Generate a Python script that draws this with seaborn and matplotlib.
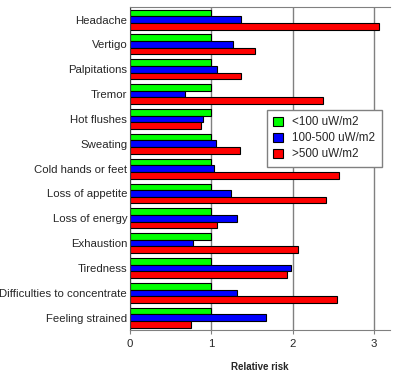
import pandas as pd
import matplotlib
matplotlib.use('Agg')
import matplotlib.pyplot as plt
import seaborn as sns

# Sintomas (de cima para baixo)
sintomas = ['Headache', 'Vertigo', 'Palpitations', 'Tremor', 'Hot flushes',
            'Sweating', 'Cold hands or feet', 'Loss of appetite', 'Loss of energy',
            'Exhaustion', 'Tiredness', 'Difficulties to concentrate', 'Feeling strained']

grupos = ['<100 uW/m2', '100-500 uW/m2', '>500 uW/m2']

# Risco relativo por grupo de exposição
baixo = [1.0] * 13
medio = [1.36, 1.27, 1.07, 0.68, 0.90, 1.06, 1.03, 1.24, 1.32, 0.77, 1.98, 1.32, 1.67]
alto = [3.06, 1.54, 1.37, 2.37, 0.87, 1.35, 2.57, 2.41, 1.07, 2.07, 1.93, 2.55, 0.75]

cores = ['#00ff00', '#0000ff', '#ff0000']

# Montando dataframe no formato longo
linhas = []
for grupo, valores in zip(grupos, [baixo, medio, alto]):
    for s, v in zip(sintomas, valores):
        linhas.append({'sintoma': s, 'grupo': grupo, 'risco': v})
df = pd.DataFrame(linhas)

sns.set_style('white')
plt.rcParams['font.family'] = ['Liberation Sans', 'DejaVu Sans']

fig = plt.figure(figsize=(4, 3.76), dpi=100)
ax = fig.add_axes([0.325, 0.122, 0.65, 0.859])

ax.grid(axis='x', color='#808080', linewidth=1)
ax.set_axisbelow(True)

sns.barplot(data=df, x='risco', y='sintoma', hue='grupo', order=sintomas,
            hue_order=grupos, palette=cores, saturation=1, orient='h', width=0.8,
            edgecolor='black', linewidth=0.8, ax=ax)

ax.set_xlim(0, 3.2)
ax.set_xticks([0, 1, 2, 3])
ax.tick_params(axis='x', labelsize=8.2, length=3, direction='out', bottom=True, color='#808080')
ax.tick_params(axis='y', labelsize=8.2, length=0, pad=2)
ax.set_xlabel('Relative risk', fontsize=7, fontweight='bold', labelpad=9)
ax.set_ylabel('')

for lado in ['top', 'bottom']:
    ax.spines[lado].set_color('#808080')
ax.spines['left'].set_color('#404040')
ax.spines['right'].set_visible(False)

ax.legend(loc='upper right', bbox_to_anchor=(0.99, 0.70), fontsize=8.4,
          frameon=True, fancybox=False, edgecolor='#808080', framealpha=1,
          handlelength=0.8, handleheight=0.8, borderpad=0.55, labelspacing=0.35,
          markerfirst=True)

plt.savefig('out.png', dpi=100)
plt.close()
